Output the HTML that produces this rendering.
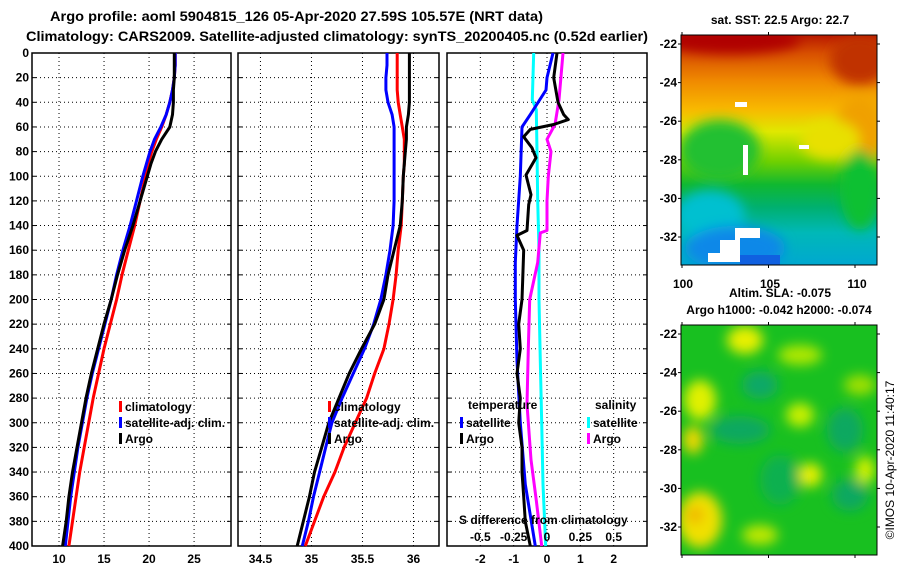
<!DOCTYPE html>
<html><head><meta charset="utf-8"><style>
html,body{margin:0;padding:0;background:#fff;}
svg{display:block;font-family:"Liberation Sans",sans-serif;font-weight:bold;}
</style></head><body>
<svg id="chart" width="900" height="580" viewBox="0 0 900 580" xmlns="http://www.w3.org/2000/svg">
<defs>
<filter id="blur6" x="-50%" y="-50%" width="200%" height="200%"><feGaussianBlur stdDeviation="6"/></filter>
<linearGradient id="sstGrad" x1="0" y1="0" x2="0" y2="1">
<stop offset="0" stop-color="#b81800"/><stop offset="0.08" stop-color="#d85000"/>
<stop offset="0.2" stop-color="#f08a00"/><stop offset="0.32" stop-color="#f8b800"/>
<stop offset="0.42" stop-color="#e0e800"/><stop offset="0.55" stop-color="#70d000"/>
<stop offset="0.65" stop-color="#10b830"/><stop offset="0.75" stop-color="#00b070"/>
<stop offset="0.86" stop-color="#00b8b8"/><stop offset="1" stop-color="#00a8d0"/>
</linearGradient>
<clipPath id="clipMap1"><rect x="681" y="35" width="196" height="230"/></clipPath>
<clipPath id="clipMap2"><rect x="681" y="325" width="196" height="230"/></clipPath>
</defs>
<text x="50" y="21" font-size="14" textLength="493" lengthAdjust="spacingAndGlyphs">Argo profile: aoml 5904815_126 05-Apr-2020 27.59S 105.57E (NRT data)</text>
<text x="26" y="41" font-size="14" textLength="622" lengthAdjust="spacingAndGlyphs">Climatology: CARS2009. Satellite-adjusted climatology: synTS_20200405.nc (0.52d earlier)</text>

<g id="panels"></g>

<g clip-path="url(#clipMap1)">
<rect x="681" y="35" width="196" height="230" fill="url(#sstGrad)"/>
<g filter="url(#blur6)">
<ellipse cx="730" cy="40" rx="70" ry="14" fill="#b00000"/>
<ellipse cx="860" cy="60" rx="30" ry="25" fill="#c03000"/>
<ellipse cx="860" cy="130" rx="25" ry="35" fill="#f0a000"/>
<ellipse cx="830" cy="140" rx="30" ry="20" fill="#e8e000"/>
<ellipse cx="720" cy="150" rx="40" ry="30" fill="#20c030"/>
<ellipse cx="710" cy="215" rx="35" ry="25" fill="#00c0d0"/>
<ellipse cx="735" cy="248" rx="50" ry="22" fill="#1088e8"/>
<ellipse cx="860" cy="190" rx="20" ry="40" fill="#10c030"/>
</g>
<rect x="740" y="255" width="40" height="10" fill="#1060e0"/>
<path d="M720,262 L720,240 L735,240 L735,228 L760,228 L760,238 L740,238 L740,262 Z" fill="#fff"/>
<rect x="708" y="253" width="12" height="9" fill="#fff"/>
<rect x="735" y="102" width="12" height="5" fill="#fff"/>
<rect x="743" y="145" width="5" height="30" fill="#fff"/>
<rect x="799" y="145" width="10" height="4" fill="#fff"/>
</g>
<rect x="681" y="35" width="196" height="230" fill="none" stroke="#000" stroke-width="1"/>
<text x="780" y="24" font-size="12" text-anchor="middle">sat. SST: 22.5 Argo: 22.7</text>
<g id="map1axes"></g>
<text x="780" y="297" font-size="12" text-anchor="middle">Altim. SLA: -0.075</text>
<text x="779" y="314" font-size="12" text-anchor="middle">Argo h1000: -0.042 h2000: -0.074</text>

<g clip-path="url(#clipMap2)">
<rect x="681" y="325" width="196" height="230" fill="#18c020"/>
<g filter="url(#blur6)">
<ellipse cx="745" cy="340" rx="18" ry="14" fill="#e8f000"/>
<ellipse cx="800" cy="355" rx="22" ry="10" fill="#b0e800"/>
<ellipse cx="860" cy="385" rx="16" ry="10" fill="#a0e000"/>
<ellipse cx="700" cy="400" rx="16" ry="20" fill="#e0f000"/>
<ellipse cx="693" cy="440" rx="10" ry="14" fill="#f0d800"/>
<ellipse cx="800" cy="415" rx="14" ry="12" fill="#c8f000"/>
<ellipse cx="810" cy="475" rx="12" ry="12" fill="#e8f000"/>
<ellipse cx="700" cy="520" rx="22" ry="28" fill="#f0e000"/>
<ellipse cx="695" cy="515" rx="8" ry="8" fill="#f0b000"/>
<ellipse cx="760" cy="535" rx="18" ry="10" fill="#c0e800"/>
<ellipse cx="760" cy="385" rx="18" ry="14" fill="#10a868"/>
<ellipse cx="740" cy="430" rx="30" ry="14" fill="#10a860"/>
<ellipse cx="780" cy="480" rx="20" ry="25" fill="#10b050"/>
<ellipse cx="845" cy="430" rx="18" ry="22" fill="#10a860"/>
<ellipse cx="850" cy="495" rx="18" ry="16" fill="#10a860"/>
<ellipse cx="865" cy="470" rx="10" ry="14" fill="#d0f000"/>
</g>
</g>
<rect x="681" y="325" width="196" height="230" fill="none" stroke="#000" stroke-width="1"/>
<g id="map2axes"></g>
<text transform="translate(894,460) rotate(-90)" font-size="12" font-weight="normal" text-anchor="middle">©IMOS 10-Apr-2020 11:40:17</text>
</svg>
<script>
const depthTick = [0,20,40,60,80,100,120,140,160,180,200,220,240,260,280,300,320,340,360,380,400];
const depths = [0,10,20,30,40,50,60,70,80,90,100,120,140,160,180,200,220,240,260,280,300,320,340,360,380,400];
const tempArgo = [22.8,22.8,22.8,22.7,22.7,22.6,22.3,21.4,20.7,20.2,19.8,19.0,18.2,17.3,16.5,15.8,15.0,14.3,13.6,13.0,12.5,12.0,11.5,11.1,10.8,10.4];
const tempSat  = [22.9,22.9,22.8,22.6,22.3,21.9,21.3,20.6,20.1,19.7,19.3,18.6,17.9,17.1,16.4,15.8,15.1,14.4,13.7,13.1,12.6,12.1,11.7,11.3,11.0,10.7];
const tempClim = [22.9,22.9,22.8,22.6,22.3,21.9,21.4,20.8,20.3,19.9,19.6,19.0,18.4,17.7,17.0,16.4,15.7,15.0,14.4,13.8,13.3,12.8,12.3,11.9,11.5,11.1];
const salArgo = [35.96,35.96,35.96,35.96,35.96,35.95,35.93,35.93,35.92,35.91,35.90,35.89,35.87,35.81,35.75,35.71,35.62,35.49,35.37,35.27,35.17,35.10,35.03,34.98,34.92,34.86];
const salSat  = [35.74,35.74,35.73,35.73,35.75,35.79,35.81,35.81,35.81,35.81,35.81,35.81,35.80,35.77,35.73,35.68,35.61,35.52,35.41,35.30,35.20,35.14,35.08,35.02,34.97,34.91];
const salClim = [35.84,35.84,35.84,35.84,35.85,35.87,35.89,35.91,35.91,35.91,35.90,35.89,35.88,35.85,35.83,35.80,35.76,35.71,35.62,35.54,35.43,35.32,35.23,35.12,35.03,34.94];
const dTSatDepth = [0,20,30,50,60,100,140,170,200,250,300,350,400];
const dTSat = [0.18,0,-0.03,-0.5,-0.75,-0.8,-0.9,-0.95,-0.95,-0.9,-0.8,-0.65,-0.35];
const dTArgoDepth = [0,20,40,50,54,58,62,68,77,85,99,115,123,144,148,160,184,200,220,240,260,280,300,320,340,360,380,400];
const dTArgo = [0.3,0.2,0.33,0.5,0.64,0.2,-0.5,-0.7,-0.45,-0.33,-0.63,-0.48,-0.55,-0.6,-0.9,-0.7,-0.73,-0.75,-0.85,-0.8,-0.9,-0.8,-0.85,-0.75,-0.75,-0.7,-0.65,-0.5];
const dSSatDepth = [0,38,46,80,120,160,200,250,300,350,400];
const dSSat = [-0.1,-0.11,-0.08,-0.075,-0.07,-0.06,-0.06,-0.05,-0.04,-0.03,-0.01];
const dSArgoDepth = [0,38,58,70,80,100,120,144,146,170,200,240,285,330,363,400];
const dSArgo = [0.12,0.09,0.06,0,0.03,0.01,0.0,0.0,-0.05,-0.07,-0.13,-0.14,-0.15,-0.12,-0.08,-0.04];
const tempTicks = [10,15,20,25];
const salTicks = [34.5,35,35.5,36];
const dTTicks = [-2,-1,0,1,2];
const dSTicks = [-0.5,-0.25,0,0.25,0.5];
const dSTickLabels = ["-0.5","-0.25","0","0.25","0.5"];
const latTicks = [-22,-24,-26,-28,-30,-32];
const lonTicks = [100,105,110];

const NS='http://www.w3.org/2000/svg';
function mk(tag, attrs, parent){const e=document.createElementNS(NS,tag);for(const k in attrs)e.setAttribute(k,attrs[k]);parent.appendChild(e);return e;}
const TOP=53, BOT=546;
const yD = d => TOP + d*(BOT-TOP)/400;
const panels = document.getElementById('panels');
const P = [
 {name:'temperature', x0:32, x1:231, v0:7, v1:29.1},
 {name:'salinity', x0:238, x1:439, v0:34.28, v1:36.25},
 {name:'difference', x0:447, x1:647, v0:-3.0, v1:3.0}
];
function xf(p){return v => p.x0 + (v-p.v0)*(p.x1-p.x0)/(p.v1-p.v0);}
const xT=xf(P[0]), xS=xf(P[1]), xDT=xf(P[2]);
const xDS = v => xDT(v*4);
const xfs=[xT,xS,xDT], ticks=[tempTicks,salTicks,dTTicks];

P.forEach((p,i)=>{
  const g=mk('g',{},panels);
  
  
  const grid=mk('g',{stroke:'#000','stroke-width':1,'stroke-dasharray':'1,3'},g);
  
  
  depthTick.forEach(d=>{ if(d>0&&d<400) mk('line',{x1:p.x0,x2:p.x1,y1:yD(d),y2:yD(d)},grid); });
  ticks[i].forEach(t=>{ const x=xfs[i](t); mk('line',{x1:x,x2:x,y1:TOP,y2:BOT},grid);
    const tl=mk('text',{x:x,y:563,'font-size':12,'text-anchor':'middle'},g); tl.textContent=t;
    
    
  });
  depthTick.forEach(d=>{ mk('line',{x1:p.x0,x2:p.x0+4,y1:yD(d),y2:yD(d),stroke:'#000'},g); mk('line',{x1:p.x1-4,x2:p.x1,y1:yD(d),y2:yD(d),stroke:'#000'},g);});
  const fr=mk('rect',{x:p.x0,y:TOP,width:p.x1-p.x0,height:BOT-TOP,fill:'none',stroke:'#000','stroke-width':1.5},g);
  
  
});
depthTick.forEach(d=>{
  const t=mk('text',{x:29,y:yD(d)+4,'font-size':12,'text-anchor':'end'},panels); t.textContent=d;
  
  
});
function line(xs, ds, xfun, color, name){
  const pts = xs.map((v,k)=>xfun(v).toFixed(1)+','+yD(ds[k]).toFixed(1)).join(' ');
  const pl = mk('polyline',{points:pts,fill:'none',stroke:color,'stroke-width':3,'stroke-linejoin':'round'},panels);
  
  
}
line(tempClim,depths,xT,'#ff0000','temp-climatology-line');
line(tempSat,depths,xT,'#0000ff','temp-satellite-line');
line(tempArgo,depths,xT,'#000000','temp-argo-line');
line(salClim,depths,xS,'#ff0000','sal-climatology-line');
line(salSat,depths,xS,'#0000ff','sal-satellite-line');
line(salArgo,depths,xS,'#000000','sal-argo-line');
line(dSSat,dSSatDepth,xDS,'#00ffff','sdiff-satellite-line');
line(dSArgo,dSArgoDepth,xDS,'#ff00ff','sdiff-argo-line');
line(dTSat,dTSatDepth,xDT,'#0000ff','tdiff-satellite-line');
line(dTArgo,dTArgoDepth,xDT,'#000000','tdiff-argo-line');

function legend(x,y,color,label,name){
  const g=mk('g',{},panels);
  
  
  mk('rect',{x:x,y:y-10,width:3,height:11,fill:color},g);
  const t=mk('text',{x:x+6,y:y,'font-size':12},g); t.textContent=label;
}
legend(119,411,'#ff0000','climatology','legend-climatology');
legend(119,427,'#0000ff','satellite-adj. clim.','legend-satellite-adj');
legend(119,443,'#000000','Argo','legend-argo');
legend(328,411,'#ff0000','climatology','legend-sal-climatology');
legend(328,427,'#0000ff','satellite-adj. clim.','legend-sal-satellite-adj');
legend(328,443,'#000000','Argo','legend-sal-argo');
legend(460,427,'#0000ff','satellite','legend-tdiff-satellite');
legend(460,443,'#000000','Argo','legend-tdiff-argo');
legend(587,427,'#00ffff','satellite','legend-sdiff-satellite');
legend(587,443,'#ff00ff','Argo','legend-sdiff-argo');
function txt(x,y,s,name,anchor){const t=mk('text',{x:x,y:y,'font-size':12,'text-anchor':anchor||'start'},panels);t.textContent=s;
  
  }
txt(468,409,'temperature','legend-temperature-heading');
txt(595,409,'salinity','legend-salinity-heading');
txt(459,524,'S difference from climatology','sdiff-axis-title');
dSTicks.forEach((t,k)=>{ txt(xDS(t),541,dSTickLabels[k],'sdiff-tick-label','middle'); });

function mapAxes(gid, x0,x1,y0,y1, latY0, latStep){
  const g=document.getElementById(gid);
  latTicks.forEach((la,k)=>{
    const y=latY0+k*latStep;
    mk('line',{x1:x0-3,x2:x0,y1:y,y2:y,stroke:'#000'},g);
    mk('line',{x1:x1,x2:x1+3,y1:y,y2:y,stroke:'#000'},g);
    const t=mk('text',{x:x0-4,y:y+4,'font-size':12,'text-anchor':'end'},g); t.textContent=la;
    
    
  });
  lonTicks.forEach((lo,k)=>{
    const x=x0+1+(lo-100)*17.3;
    mk('line',{x1:x,x2:x,y1:y0-3,y2:y0,stroke:'#000'},g);
    mk('line',{x1:x,x2:x,y1:y1,y2:y1+3,stroke:'#000'},g);
  });
}
mapAxes('map1axes',681,877,35,265,44,38.6);
mapAxes('map2axes',681,877,325,555,334,38.6);
const m1=document.getElementById('map1axes');
lonTicks.forEach(lo=>{const t=mk('text',{x:683+(lo-100)*17.4,y:288,'font-size':12,'text-anchor':'middle'},m1);t.textContent=lo;
  
  });
</script>
</body></html>
